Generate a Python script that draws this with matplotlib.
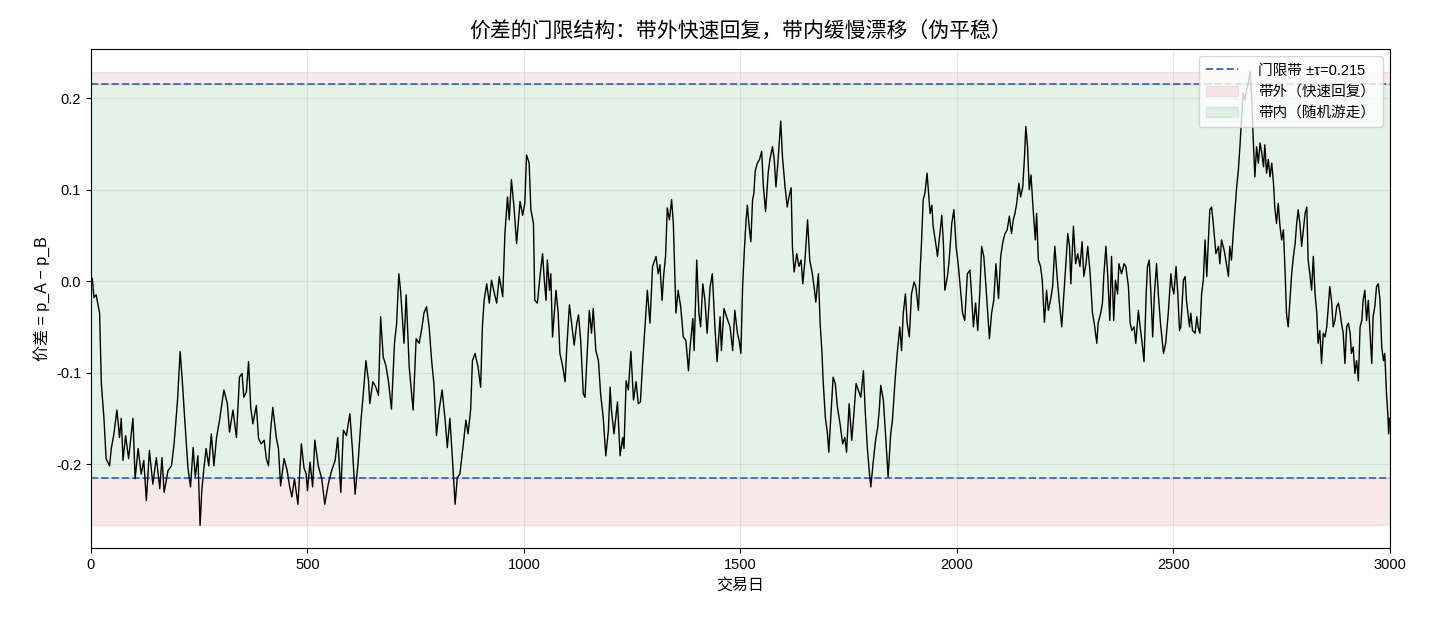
import numpy as np
import matplotlib
matplotlib.use("Agg")
import matplotlib.pyplot as plt

plt.rcParams['font.family'] = ['Liberation Sans', 'Noto Sans CJK SC', 'DejaVu Sans']
plt.rcParams['axes.unicode_minus'] = False

# threshold
tau = 0.215

# spread readings (trading day, value), in pieces
days1 = [0, 3, 7, 12, 16, 20, 24, 30, 35, 43, 47, 53, 60, 66, 70, 74, 80, 87, 97, 102,
         109, 116, 122, 128, 135, 143, 151, 159, 164, 169, 178, 186, 192, 200, 206, 211, 216, 224, 230, 236,
         241, 247, 252, 256, 261, 266, 272, 278, 284, 290, 297, 307, 315, 320, 328, 336, 343, 349, 353, 359,
         364, 369, 374, 382, 387, 393, 400, 405, 410, 415, 420, 428, 433, 438, 446, 453, 459, 464, 470, 478,
         486, 492, 497]
vals1 = [0.000, 0.003, -0.018, -0.015, -0.025, -0.035, -0.112, -0.150, -0.194, -0.202,
         -0.183, -0.167, -0.141, -0.171, -0.150, -0.196, -0.169, -0.194, -0.150, -0.216,
         -0.183, -0.211, -0.196, -0.240, -0.185, -0.222, -0.193, -0.227, -0.193, -0.231,
         -0.207, -0.202, -0.178, -0.130, -0.077, -0.109, -0.147, -0.204, -0.225, -0.182,
         -0.214, -0.191, -0.267, -0.229, -0.204, -0.183, -0.202, -0.167, -0.202, -0.171,
         -0.152, -0.119, -0.134, -0.165, -0.141, -0.171, -0.105, -0.101, -0.127, -0.121,
         -0.088, -0.138, -0.156, -0.136, -0.172, -0.178, -0.174, -0.194, -0.202, -0.163,
         -0.138, -0.171, -0.183, -0.224, -0.194, -0.207, -0.225, -0.236, -0.216, -0.244,
         -0.178, -0.204, -0.211]

days2 = [500, 506, 512, 517, 525, 533, 540, 548, 556, 564, 570, 577, 583, 590, 598, 604, 610, 617, 624, 629,
         635, 641, 644, 651, 658, 664, 669, 675, 681, 687, 694, 701, 706, 711, 715, 723, 728, 735, 744, 751,
         758, 764, 769, 775, 781, 787, 792, 798, 804, 811, 818, 823, 829, 835, 841, 846, 852, 860, 866, 871,
         877, 881, 887, 894, 900, 904, 908, 914, 920, 925, 932, 937, 943, 951, 956, 962, 966, 971, 977, 983]
vals2 = [-0.229, -0.198, -0.225, -0.174, -0.202, -0.216, -0.244, -0.222, -0.207, -0.196,
         -0.171, -0.231, -0.163, -0.169, -0.145, -0.185, -0.233, -0.198, -0.150, -0.123,
         -0.087, -0.109, -0.134, -0.110, -0.116, -0.125, -0.039, -0.083, -0.092, -0.109,
         -0.140, -0.068, -0.046, 0.008, -0.010, -0.068, -0.015, -0.094, -0.141, -0.063,
         -0.068, -0.052, -0.035, -0.028, -0.050, -0.088, -0.112, -0.169, -0.141, -0.119,
         -0.152, -0.182, -0.150, -0.196, -0.244, -0.215, -0.211, -0.178, -0.152, -0.167,
         -0.140, -0.087, -0.079, -0.094, -0.116, -0.050, -0.021, -0.003, -0.024, 0.001,
         -0.014, -0.024, 0.005, -0.017, 0.052, 0.092, 0.067, 0.111, 0.081, 0.041]

days3 = [991, 997, 1002, 1006, 1012, 1016, 1022, 1025, 1031, 1037, 1043, 1047, 1051, 1054, 1059, 1062, 1066, 1074, 1079, 1083,
         1089, 1095, 1099, 1105, 1110, 1116, 1122, 1126, 1131, 1137, 1141, 1146, 1151, 1156, 1160, 1166, 1172, 1177, 1183, 1189,
         1195, 1199, 1202, 1208, 1212, 1216, 1222, 1228, 1231, 1236, 1241, 1247, 1253, 1259, 1264, 1269, 1274, 1279, 1285, 1291,
         1297, 1305, 1310, 1314, 1319, 1323, 1327, 1331, 1336, 1341, 1345, 1351, 1356, 1362, 1368, 1374, 1380, 1383, 1390, 1393,
         1399, 1404, 1408, 1413, 1418, 1423, 1430, 1435, 1441, 1446, 1453, 1456, 1462, 1468]
vals3 = [0.087, 0.072, 0.085, 0.138, 0.129, 0.078, 0.063, -0.021, -0.024, 0.005,
         0.030, 0.001, -0.021, 0.023, -0.010, 0.008, -0.061, -0.010, -0.035, -0.079,
         -0.092, -0.110, -0.072, -0.026, -0.046, -0.070, -0.046, -0.037, -0.065, -0.123,
         -0.127, -0.079, -0.032, -0.057, -0.030, -0.076, -0.087, -0.123, -0.149, -0.191,
         -0.163, -0.116, -0.141, -0.167, -0.149, -0.132, -0.191, -0.171, -0.183, -0.109,
         -0.119, -0.077, -0.130, -0.110, -0.134, -0.132, -0.090, -0.054, -0.010, -0.046,
         0.016, 0.027, 0.008, 0.018, -0.021, 0.008, 0.027, 0.080, 0.067, 0.089,
         0.063, -0.035, -0.010, -0.028, -0.061, -0.065, -0.098, -0.076, -0.041, -0.076,
         0.023, -0.035, -0.050, -0.003, -0.021, -0.057, -0.006, 0.008, -0.050, -0.088,
         -0.039, -0.076, -0.030, -0.039]

days4 = [1476, 1482, 1487, 1493, 1497, 1501, 1505, 1509, 1513, 1516, 1520, 1524, 1528, 1531, 1534, 1539, 1544, 1549, 1553, 1558,
         1564, 1568, 1574, 1578, 1582, 1587, 1593, 1597, 1603, 1608, 1612, 1617, 1620, 1624, 1630, 1635, 1640, 1644, 1649, 1655,
         1660, 1666, 1670, 1674, 1680, 1684, 1688, 1691, 1696, 1701, 1704, 1709, 1714, 1719, 1724, 1730, 1736, 1741, 1745, 1751,
         1757, 1762, 1767, 1772, 1778, 1784, 1788, 1793, 1798, 1801, 1807, 1812, 1817, 1821, 1824, 1830, 1835, 1841, 1847, 1851,
         1857, 1862, 1868, 1872, 1876, 1881, 1885, 1890, 1895, 1901, 1905, 1911, 1915, 1918, 1922, 1926, 1931]
vals4 = [-0.050, -0.076, -0.032, -0.057, -0.065, -0.079, -0.006, 0.034, 0.067, 0.083,
         0.060, 0.043, 0.089, 0.096, 0.120, 0.129, 0.133, 0.142, 0.103, 0.076,
         0.118, 0.133, 0.147, 0.133, 0.103, 0.133, 0.175, 0.136, 0.103, 0.081,
         0.092, 0.102, 0.038, 0.010, 0.030, 0.016, 0.023, -0.003, 0.023, 0.067,
         0.023, 0.008, -0.006, -0.023, 0.008, -0.046, -0.076, -0.109, -0.149, -0.167,
         -0.187, -0.145, -0.105, -0.112, -0.138, -0.156, -0.178, -0.171, -0.187, -0.134,
         -0.174, -0.145, -0.112, -0.119, -0.127, -0.098, -0.141, -0.182, -0.211, -0.225,
         -0.196, -0.174, -0.160, -0.138, -0.114, -0.130, -0.167, -0.214, -0.167, -0.152,
         -0.109, -0.079, -0.050, -0.076, -0.035, -0.014, -0.046, -0.061, -0.014, -0.001,
         -0.006, -0.032, 0.012, 0.041, 0.089, 0.096, 0.118]

days5 = [1938, 1942, 1945, 1952, 1955, 1959, 1965, 1969, 1972, 1978, 1982, 1988, 1993, 1998, 2003, 2009, 2013, 2018, 2024, 2030,
         2034, 2038, 2043, 2048, 2053, 2057, 2062, 2067, 2070, 2075, 2080, 2085, 2090, 2096, 2101, 2106, 2111, 2116, 2121, 2126,
         2130, 2134, 2138, 2143, 2147, 2152, 2156, 2159, 2163, 2167, 2171, 2176, 2181, 2184, 2188, 2193, 2197, 2202, 2207, 2211,
         2216, 2221, 2226, 2232, 2236, 2242, 2247, 2252, 2256, 2260, 2263, 2269, 2274, 2279, 2284, 2289, 2293, 2298, 2302, 2307,
         2313, 2317, 2323, 2326, 2332, 2336, 2339, 2344, 2348, 2353, 2357, 2362, 2366, 2371, 2374, 2380, 2386, 2390, 2396, 2400,
         2404, 2409, 2413, 2419]
vals5 = [0.074, 0.083, 0.060, 0.038, 0.027, 0.045, 0.072, 0.038, -0.010, 0.005,
         0.023, 0.063, 0.078, 0.038, 0.018, -0.014, -0.035, -0.043, 0.008, 0.012,
         -0.017, -0.050, -0.024, -0.054, -0.010, 0.038, 0.027, -0.006, -0.028, -0.063,
         -0.035, -0.021, 0.019, -0.019, 0.027, 0.043, 0.052, 0.056, 0.071, 0.052,
         0.067, 0.074, 0.085, 0.107, 0.092, 0.103, 0.136, 0.169, 0.147, 0.100,
         0.116, 0.078, 0.045, 0.074, 0.023, 0.016, 0.001, -0.045, -0.010, -0.032,
         -0.021, -0.006, 0.038, 0.001, -0.021, -0.050, -0.014, 0.023, 0.052, 0.038,
         -0.003, 0.060, 0.019, 0.030, 0.016, 0.043, 0.005, 0.019, 0.038, 0.012,
         -0.035, -0.046, -0.068, -0.046, -0.035, -0.024, 0.005, 0.038, 0.008, -0.043,
         0.027, -0.043, 0.001, -0.014, 0.019, 0.008, 0.019, 0.016, -0.006, -0.046,
         -0.054, -0.050, -0.068, -0.032]

days6 = [2423, 2427, 2432, 2437, 2440, 2444, 2448, 2452, 2456, 2461, 2465, 2470, 2477, 2482, 2488, 2494, 2497, 2501, 2506, 2510,
         2514, 2517, 2523, 2527, 2530, 2537, 2540, 2544, 2550, 2554, 2557, 2561, 2565, 2569, 2573, 2577, 2580, 2584, 2588, 2592,
         2598, 2604, 2607, 2611, 2617, 2621, 2627, 2630, 2634, 2638, 2642, 2646, 2650, 2654, 2657, 2661, 2665, 2669, 2673, 2677,
         2681, 2684, 2688, 2692, 2696, 2700, 2704, 2708, 2711, 2715, 2719, 2723, 2727, 2731, 2734, 2738, 2742, 2746, 2750, 2754,
         2758, 2761, 2765, 2769, 2773, 2777, 2781, 2784, 2788, 2792, 2796, 2800, 2804, 2808, 2811, 2815, 2819, 2823, 2827, 2831,
         2834, 2838, 2842, 2846, 2850, 2854, 2857, 2861, 2865, 2869, 2873, 2877, 2881, 2885, 2888, 2892, 2896, 2900, 2904, 2908,
         2911, 2915, 2919, 2923, 2927, 2931, 2935, 2938, 2942, 2946, 2950, 2954, 2958, 2961, 2965, 2969, 2973, 2977, 2981, 2985,
         2988, 2992, 2995, 2997, 2999]
vals6 = [-0.050, -0.065, -0.088, -0.014, 0.016, 0.023, -0.014, -0.061, -0.014, 0.019,
         -0.014, -0.046, -0.079, -0.068, -0.035, 0.008, -0.006, -0.014, 0.016, -0.014,
         -0.054, -0.050, 0.001, 0.005, -0.021, -0.050, -0.035, -0.054, -0.057, -0.039,
         -0.050, -0.057, -0.014, 0.001, 0.045, 0.005, 0.038, 0.078, 0.081, 0.063,
         0.030, 0.038, 0.019, 0.045, 0.034, 0.023, 0.005, 0.038, 0.023, 0.052,
         0.078, 0.103, 0.122, 0.151, 0.176, 0.206, 0.198, 0.209, 0.217, 0.229,
         0.198, 0.158, 0.114, 0.147, 0.129, 0.151, 0.140, 0.125, 0.149, 0.118,
         0.133, 0.114, 0.129, 0.107, 0.081, 0.063, 0.085, 0.060, 0.045, 0.056,
         0.008, -0.035, -0.050, -0.021, 0.008, 0.027, 0.041, 0.060, 0.078, 0.063,
         0.038, 0.056, 0.074, 0.081, 0.023, 0.008, -0.010, 0.027, -0.014, -0.035,
         -0.068, -0.054, -0.090, -0.057, -0.061, -0.050, -0.032, -0.006, -0.021, -0.050,
         -0.043, -0.028, -0.024, -0.035, -0.046, -0.057, -0.090, -0.050, -0.046, -0.057,
         -0.079, -0.072, -0.101, -0.087, -0.109, -0.050, -0.043, -0.021, -0.010, -0.043,
         -0.021, -0.057, -0.090, -0.039, -0.028, -0.006, -0.003, -0.021, -0.072, -0.087,
         -0.079, -0.123, -0.145, -0.167, -0.150]

day = np.array(days1 + days2 + days3 + days4 + days5 + days6)
spread = np.array(vals1 + vals2 + vals3 + vals4 + vals5 + vals6)

fig = plt.figure(figsize=(14.3, 6.24), dpi=100)
ax = fig.add_axes([0.0636, 0.1218, 0.9084, 0.7997])

lo, hi = spread.min(), spread.max()
ax.axhspan(lo, -tau, color='#c44e52', alpha=0.12, label='带外（快速回复）')
ax.axhspan(tau, hi, color='#c44e52', alpha=0.12)
ax.axhspan(-tau, tau, color='#55a868', alpha=0.15, label='带内（随机游走）')
ax.axhline(tau, color='#4c72b0', ls='--', lw=1.4, label='门限带 ±τ=0.215')
ax.axhline(-tau, color='#4c72b0', ls='--', lw=1.4)
ax.plot(day, spread, color='black', lw=1.0)

ax.set_xlim(0, 3000)
ax.set_xticks([0, 500, 1000, 1500, 2000, 2500, 3000])
ax.tick_params(labelsize=10.5)
ax.grid(True, alpha=0.3)
ax.set_title('价差的门限结构：带外快速回复，带内缓慢漂移（伪平稳）', fontsize=15, pad=8)
ax.set_xlabel('交易日', fontsize=11.5)
ax.set_ylabel('价差 = p_A − p_B', fontsize=11.5)

h, l = ax.get_legend_handles_labels()
order = [2, 0, 1]
ax.legend([h[i] for i in order], [l[i] for i in order], loc='upper right', fontsize=10.5,
          borderpad=0.5, handlelength=2.2, handletextpad=1.4)

fig.savefig('out.png', dpi=100)
